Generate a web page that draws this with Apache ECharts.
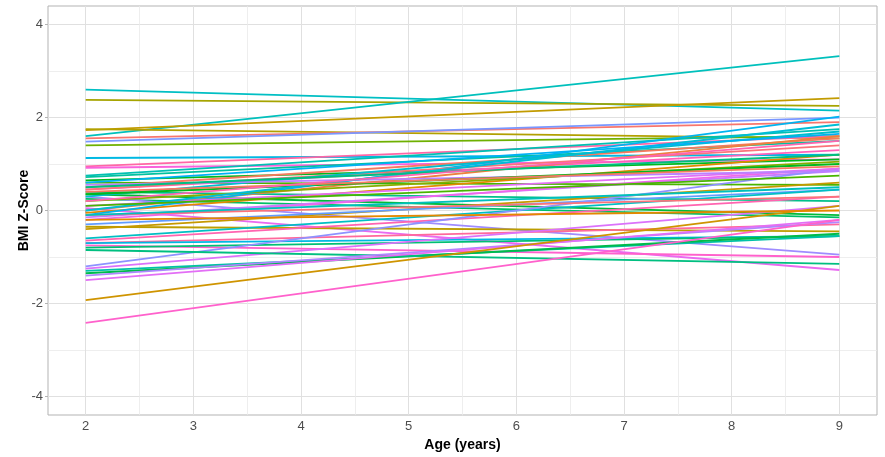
<!DOCTYPE html>
<html>
<head>
<meta charset="utf-8">
<script src="https://cdn.jsdelivr.net/npm/echarts@6/dist/echarts.min.js"></script>
<style>
html,body{margin:0;padding:0;background:#fff;}
#chart{width:885px;height:457px;}
</style>
</head>
<body>
<div id="chart"></div>
<script>
// ---- data ----
const ages = [2, 9];
const xTicks = [2, 3, 4, 5, 6, 7, 8, 9];
const xMinorTicks = [2.5, 3.5, 4.5, 5.5, 6.5, 7.5, 8.5];
const yTicks = [-4, -2, 0, 2, 4];
const yMinorTicks = [-3, -1, 1, 3];
// BMI z-score at age 2 and at age 9 for each child
const startZ = [2.60, 2.38, 1.60, 1.73, 1.75, 1.55, 1.48, 1.40, 1.13, 0.95,
                0.92, 0.75, 0.72, 0.65, 0.60, 0.50, 0.45, 0.40, 0.35, 0.25,
                0.30, 0.05, 0.00, -0.05, -0.10, -0.15, -0.20, -0.35, -0.40, -0.30,
                -0.60, -0.65, -0.70, -0.70, -0.75, -0.80, -1.20, -1.25, -1.30, -1.35,
                -0.85, -1.40, -1.50, -1.93, -2.42, 0.20, 0.10, 0.45, 0.30, 0.55,
                -0.10, -0.20, 0.35, 0.00, 0.50, 0.40, 0.20, 0.10, -0.10, 0.60];
const endZ   = [2.15, 2.25, 3.32, 2.42, 1.55, 1.90, 2.00, 1.60, 1.20, 1.60,
                1.10, 1.75, 1.50, 1.10, 0.55, 1.55, 1.30, 0.20, -0.10, -0.15,
                -0.95, -1.28, 1.60, 1.20, 2.02, 0.85, 0.90, -0.45, 0.60, 0.45,
                0.45, 0.30, -0.30, -0.55, -1.00, -0.55, 0.90, 0.10, -0.55, -0.50,
                -1.15, -0.25, -0.20, 0.10, -0.20, 1.05, 0.90, 1.40, 1.70, 0.85,
                0.30, 0.00, 1.00, 1.85, 1.20, 0.95, 1.50, 0.75, 0.50, 1.65];
const hues   = [195, 85, 190, 68, 78, 15, 260, 110, 215, 350,
                320, 185, 175, 130, 120, 20, 340, 165, 135, 150,
                270, 305, 30, 40, 225, 285, 310, 72, 65, 255,
                195, 345, 355, 215, 330, 155, 265, 295, 180, 140,
                160, 275, 300, 58, 330, 100, 300, 10, 200, 280,
                10, 40, 130, 205, 160, 20, 345, 120, 190, 230];

// ---- ggplot-like hue colours (HCL, c=100, l=65) ----
function hcl(h, c, l) {
  c = c || 100; l = l || 65;
  const hr = h * Math.PI / 180;
  const U = c * Math.cos(hr), V = c * Math.sin(hr);
  const Xn = 95.047, Yn = 100, Zn = 108.883;
  const den = Xn + 15 * Yn + 3 * Zn;
  const un = 4 * Xn / den, vn = 9 * Yn / den;
  const Y = Yn * Math.pow((l + 16) / 116, 3);
  const u = U / (13 * l) + un, v = V / (13 * l) + vn;
  const X = Y * 9 * u / (4 * v);
  const Z = Y * (12 - 3 * u - 20 * v) / (4 * v);
  const x = X / 100, y = Y / 100, z = Z / 100;
  let r = 3.2406 * x - 1.5372 * y - 0.4986 * z;
  let g = -0.9689 * x + 1.8758 * y + 0.0415 * z;
  let b = 0.0557 * x - 0.2040 * y + 1.0570 * z;
  const gam = t => {
    t = t <= 0.0031308 ? 12.92 * t : 1.055 * Math.pow(t, 1 / 2.4) - 0.055;
    return Math.round(Math.max(0, Math.min(1, t)) * 255);
  };
  return 'rgb(' + gam(r) + ',' + gam(g) + ',' + gam(b) + ')';
}

const series = startZ.map((s, i) => ({
  type: 'line',
  xAxisIndex: 0, yAxisIndex: 0,
  data: [[ages[0], s], [ages[1], endZ[i]]],
  showSymbol: false,
  silent: true,
  lineStyle: { width: 1.8, color: hcl(hues[i]) },
  itemStyle: { color: hcl(hues[i]) },
  z: 3
}));

const chart = echarts.init(document.getElementById('chart'), null, { renderer: 'canvas' });
const tickFont = { color: '#4d4d4d', fontSize: 13, fontFamily: 'Liberation Sans, Arial, sans-serif' };
const nameFont = { color: '#000', fontSize: 14, fontWeight: 'bold', fontFamily: 'Liberation Sans, Arial, sans-serif' };

chart.setOption({
  animation: false,
  backgroundColor: '#ffffff',
  grid: {
    left: 48, right: 8, top: 6, bottom: 42,
    show: true, borderColor: '#b3b3b3', borderWidth: 1, backgroundColor: 'transparent'
  },
  xAxis: [{
    type: 'value', min: 1.65, max: 9.35, position: 'bottom',
    name: 'Age (years)', nameLocation: 'middle', nameGap: 21, nameTextStyle: nameFont,
    axisLine: { show: false },
    axisTick: { show: true, length: 3, customValues: xTicks, lineStyle: { color: '#b3b3b3' } },
    axisLabel: { show: true, margin: 5, customValues: xTicks, ...tickFont },
    splitLine: { show: true, lineStyle: { color: '#e0e0e0', width: 1 } }
  }, {
    type: 'value', min: 1.65, max: 9.35, position: 'bottom',
    axisLine: { show: false },
    axisTick: { show: false, customValues: xMinorTicks },
    axisLabel: { show: false, customValues: xMinorTicks },
    splitLine: { show: true, lineStyle: { color: '#eaeaea', width: 0.8 } }
  }],
  yAxis: [{
    type: 'value', min: -4.4, max: 4.4,
    name: 'BMI Z-Score', nameLocation: 'middle', nameGap: 17, nameMoveOverlap: false, nameTextStyle: nameFont,
    axisLine: { show: false },
    axisTick: { show: true, length: 3, customValues: yTicks, lineStyle: { color: '#b3b3b3' } },
    axisLabel: { show: true, margin: 5, customValues: yTicks, ...tickFont },
    splitLine: { show: true, lineStyle: { color: '#e0e0e0', width: 1 } }
  }, {
    type: 'value', min: -4.4, max: 4.4, position: 'left',
    axisLine: { show: false },
    axisTick: { show: false, customValues: yMinorTicks },
    axisLabel: { show: false, customValues: yMinorTicks },
    splitLine: { show: true, lineStyle: { color: '#eaeaea', width: 0.8 } }
  }],
  series: series
});
</script>
</body>
</html>
